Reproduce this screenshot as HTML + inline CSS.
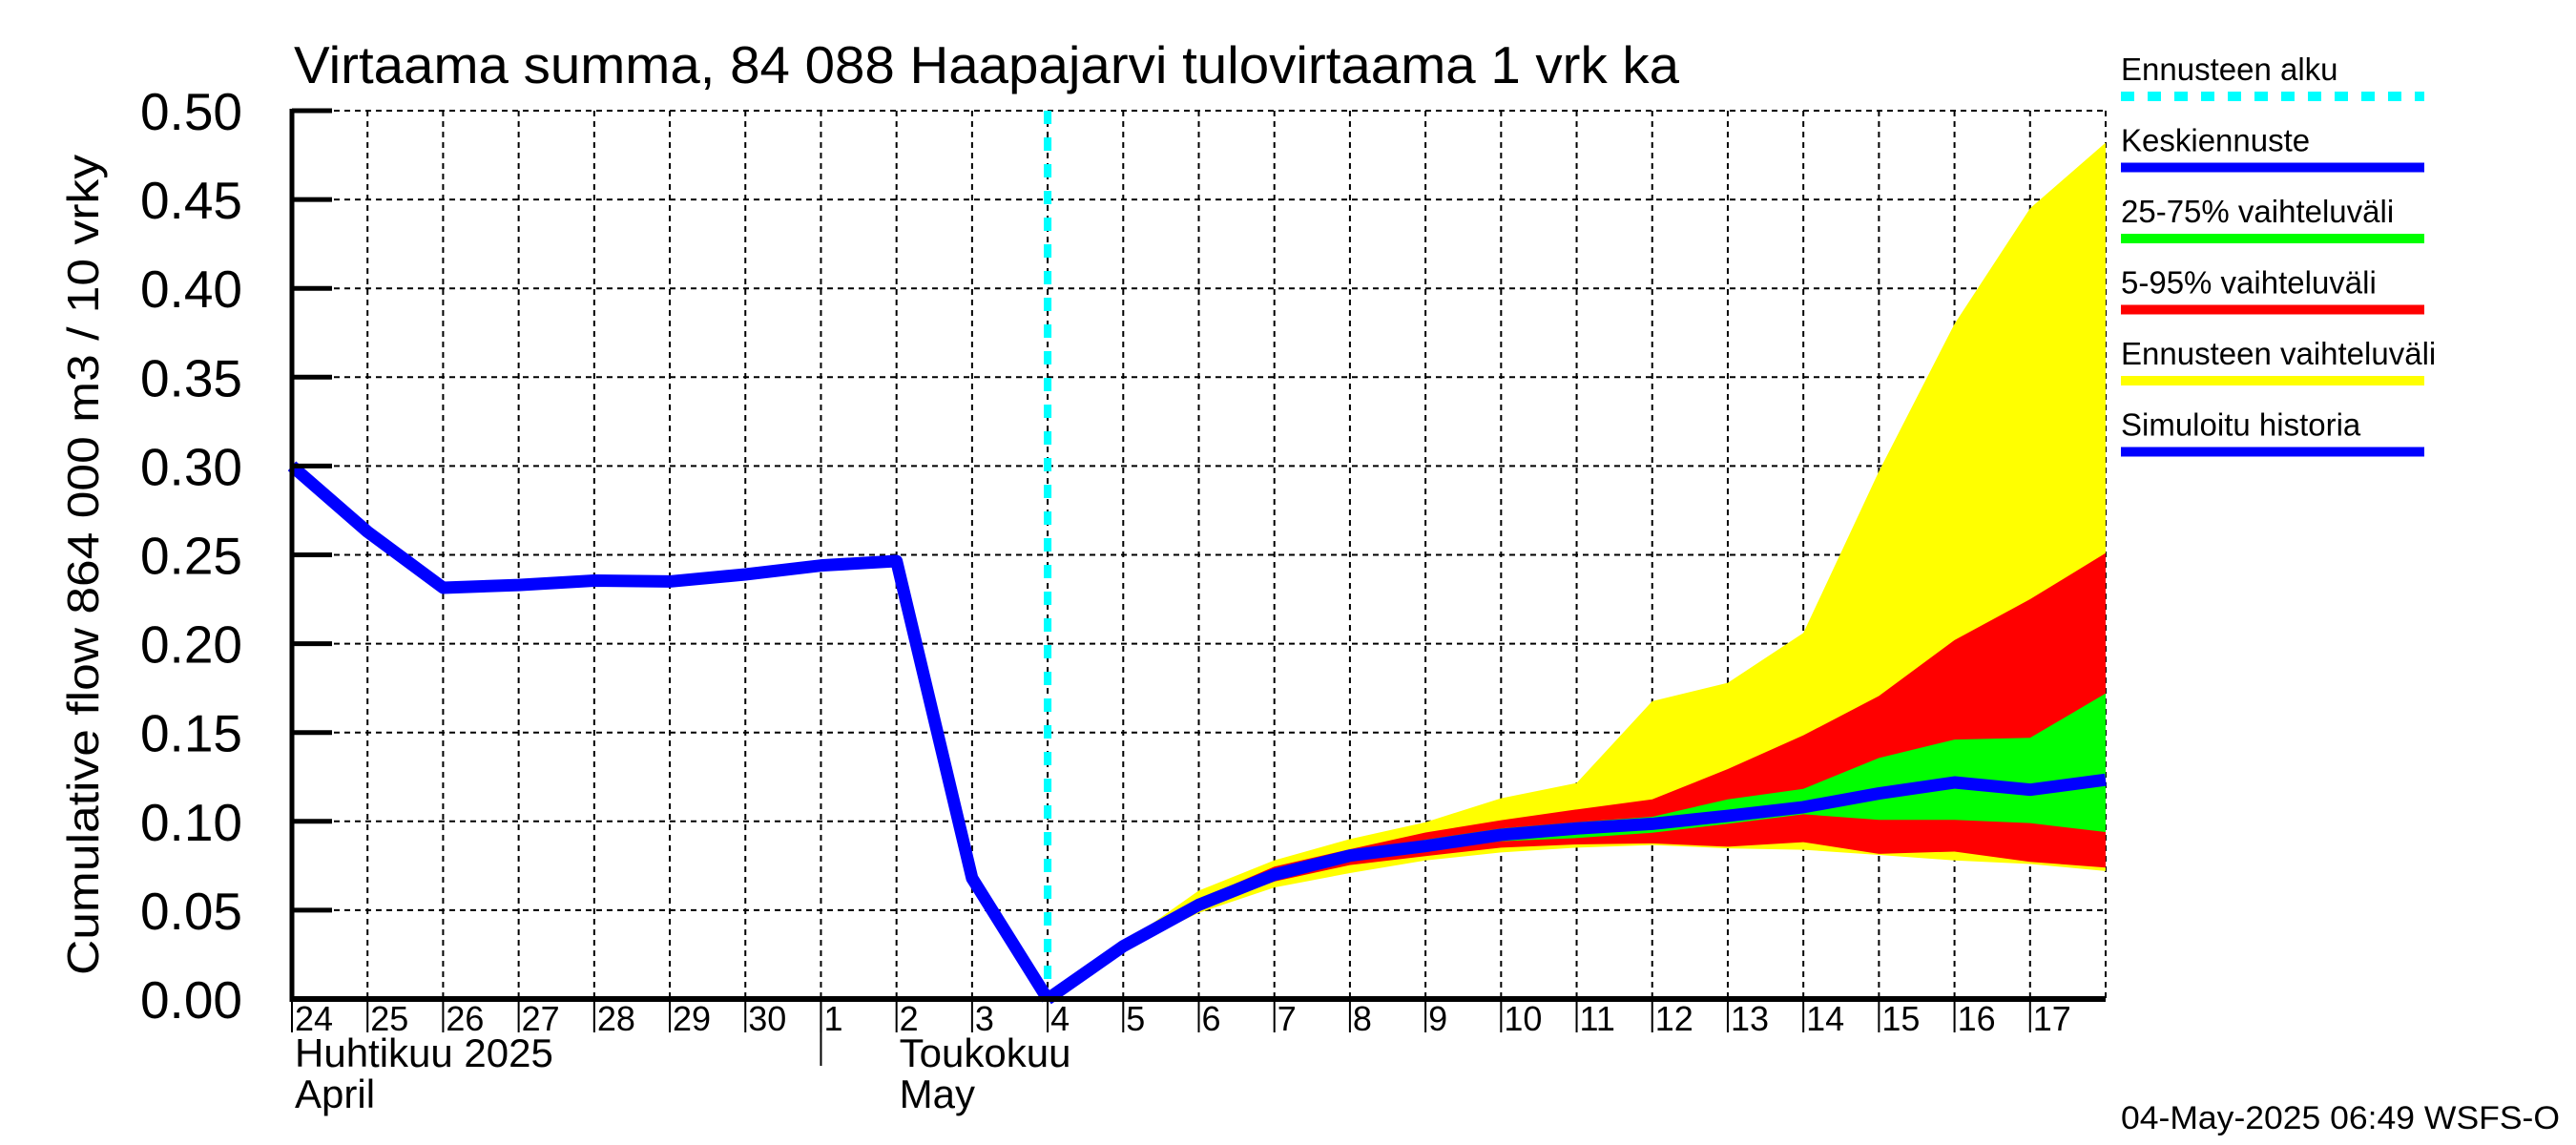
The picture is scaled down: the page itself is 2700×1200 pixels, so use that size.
<!DOCTYPE html>
<html><head><meta charset="utf-8"><style>
html,body{margin:0;padding:0;background:#fff}
svg{display:block;font-family:"Liberation Sans",Arial,sans-serif}
</style></head><body>
<svg id="chart" xmlns="http://www.w3.org/2000/svg" width="2700" height="1200" viewBox="0 0 2700 1200">
<rect width="2700" height="1200" fill="#fff"/>
<g id="grid"></g>
<g id="bands"></g>
<g id="lines"></g>
<g id="axes"></g>
<text x="308" y="87" font-size="55" textLength="1452" lengthAdjust="spacingAndGlyphs">Virtaama summa, 84 088 Haapajarvi tulovirtaama 1 vrk ka</text>
<text transform="translate(103,592) rotate(-90)" text-anchor="middle" font-size="46" textLength="860" lengthAdjust="spacingAndGlyphs">Cumulative flow    864 000 m3 / 10 vrky</text>
<g id="legend"></g>
<text x="2223" y="1183" font-size="34" textLength="460" lengthAdjust="spacingAndGlyphs">04-May-2025 06:49 WSFS-O</text>
</svg>
<script>
const dayLabels = ["24","25","26","27","28","29","30","1","2","3","4","5","6","7","8","9","10","11","12","13","14","15","16","17"];
const yTicks = [0,0.05,0.10,0.15,0.20,0.25,0.30,0.35,0.40,0.45,0.50];
const histDays = [0,1,2,3,4,5,6,7,8,9,10];
const histValues = [0.300,0.263,0.2315,0.233,0.2355,0.235,0.239,0.244,0.2465,0.068,0.0];
const fcDays = [10,11,12,13,14,15,16,17,18,19,20,21,22,23,24];
const meanValues = [0,0.0297,0.053,0.070,0.0807,0.0861,0.0924,0.096,0.0986,0.1031,0.108,0.1157,0.1219,0.1178,0.1234];
const yellowHigh = [0,0.031,0.061,0.0781,0.090,0.0995,0.113,0.1216,0.1676,0.178,0.206,0.297,0.380,0.445,0.482];
const yellowLow = [0,0.028,0.0485,0.0628,0.0709,0.078,0.0825,0.0852,0.0867,0.0848,0.084,0.0811,0.078,0.076,0.072];
const redHigh = [0,0.030,0.0561,0.0745,0.0843,0.0937,0.1006,0.1067,0.1124,0.1294,0.1484,0.1706,0.202,0.225,0.251];
const redLow = [0,0.029,0.0503,0.0661,0.0754,0.0804,0.0852,0.087,0.0876,0.0857,0.0883,0.0817,0.083,0.0772,0.074];
const greenHigh = [0,0.0297,0.054,0.071,0.082,0.0897,0.096,0.0995,0.1026,0.1124,0.1183,0.1357,0.146,0.147,0.172];
const greenLow = [0,0.0297,0.052,0.068,0.078,0.0834,0.0888,0.0906,0.0936,0.0986,0.104,0.1008,0.1008,0.099,0.094];
const forecastStartDay = 10;
const monthSepDay = 7;

const NS="http://www.w3.org/2000/svg";
const L=306,R=2207,T=116,B=1047,NDAYS=24;
const xs=d=>L+(R-L)*d/NDAYS;
const ys=v=>B-(B-T)*v/0.5;
function mk(tag,attrs,parent){const e=document.createElementNS(NS,tag);for(const k in attrs)e.setAttribute(k,attrs[k]);parent.appendChild(e);return e;}
const grid=document.getElementById('grid'),bands=document.getElementById('bands'),lines=document.getElementById('lines'),axes=document.getElementById('axes'),legend=document.getElementById('legend');

for(let d=1;d<=NDAYS;d++){
  const g=mk('line',{x1:xs(d),x2:xs(d),y1:T,y2:B,stroke:'#000','stroke-width':2,'stroke-dasharray':'6,5'},grid);
  
  
}
yTicks.forEach(v=>{
  const g=mk('line',{x1:L,x2:R,y1:ys(v),y2:ys(v),stroke:'#000','stroke-width':2,'stroke-dasharray':'6,5'},grid);
  
  
});

function band(hi,lo,color,name){
  let pts=fcDays.map((d,i)=>xs(d)+','+ys(hi[i]));
  for(let i=fcDays.length-1;i>=0;i--)pts.push(xs(fcDays[i])+','+ys(lo[i]));
  const p=mk('polygon',{points:pts.join(' '),fill:color},bands);
  
  
}
band(yellowHigh,yellowLow,'#ffff00','forecast-range-band');
band(redHigh,redLow,'#ff0000','band-5-95');
band(greenHigh,greenLow,'#00ff00','band-25-75');

const fl=mk('line',{x1:xs(forecastStartDay),x2:xs(forecastStartDay),y1:T,y2:B,stroke:'#00ffff','stroke-width':8,'stroke-dasharray':'14,14'},lines);



const hl=mk('polyline',{points:histDays.map((d,i)=>xs(d)+','+ys(histValues[i])).join(' '),fill:'none',stroke:'#0000ff','stroke-width':13,'stroke-linejoin':'round'},lines);


const ml=mk('polyline',{points:fcDays.map((d,i)=>xs(d)+','+ys(meanValues[i])).join(' '),fill:'none',stroke:'#0000ff','stroke-width':13,'stroke-linejoin':'round'},lines);



// axes
const ax1=mk('line',{x1:L,x2:L,y1:T-2,y2:B+3,stroke:'#000','stroke-width':5},axes);


const ax2=mk('line',{x1:L-2,x2:R,y1:B,y2:B,stroke:'#000','stroke-width':6},axes);


yTicks.forEach(v=>{
  const t=mk('line',{x1:L,x2:L+42,y1:ys(v),y2:ys(v),stroke:'#000','stroke-width':5},axes);
  
  
  const tx=mk('text',{x:254,y:ys(v)+20,'text-anchor':'end','font-size':55},axes);
  tx.textContent=v.toFixed(2);
  
  
});
for(let d=0;d<NDAYS;d++){
  const t=mk('line',{x1:xs(d),x2:xs(d),y1:B,y2:B+35,stroke:'#000','stroke-width':2},axes);
  
  
  const tx=mk('text',{x:xs(d)+3,y:1080,'font-size':36},axes);
  tx.textContent=dayLabels[d];
  
  
}
const ms=mk('line',{x1:xs(monthSepDay),x2:xs(monthSepDay),y1:B,y2:1117,stroke:'#000','stroke-width':2},axes);


[["Huhtikuu  2025",0,1118,'month-label-fi-april'],["April",0,1161,'month-label-en-april'],["Toukokuu",8,1118,'month-label-fi-may'],["May",8,1161,'month-label-en-may']].forEach(m=>{
  const tx=mk('text',{x:xs(m[1])+3,y:m[2],'font-size':42,'xml:space':'preserve'},axes);
  tx.textContent=m[0];
  
  
});

// legend
const legItems=[["Ennusteen alku","#00ffff",true],["Keskiennuste","#0000ff",false],["25-75% vaihteluväli","#00ff00",false],["5-95% vaihteluväli","#ff0000",false],["Ennusteen vaihteluväli","#ffff00",false],["Simuloitu historia","#0000ff",false]];
legItems.forEach((it,i)=>{
  const yb=84+i*74.5;
  const tx=mk('text',{x:2223,y:yb,'font-size':33},legend);
  tx.textContent=it[0];
  
  
  const a={x1:2223,x2:2541,y1:yb+17,y2:yb+17,stroke:it[1],'stroke-width':10};
  if(it[2])a['stroke-dasharray']='14,14';
  const ln=mk('line',a,legend);
  
  
});
</script>
</body></html>
